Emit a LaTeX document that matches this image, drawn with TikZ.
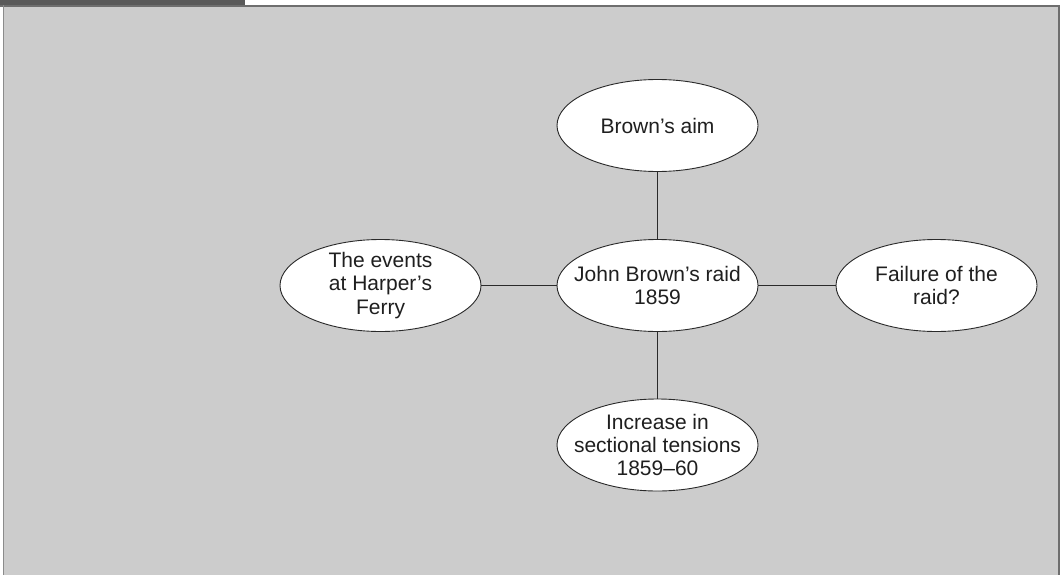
\documentclass[tikz,border=0pt]{standalone}
\usepackage{fontspec}
\setmainfont{Liberation Sans}
\usetikzlibrary{shapes.geometric}
\definecolor{panel}{HTML}{CCCCCC}
\definecolor{rule}{HTML}{6E6E6E}
\definecolor{tab}{HTML}{595959}
\definecolor{inkline}{HTML}{2A2A2A}
\tikzset{
  topic/.style={ellipse, draw=inkline, line width=0.9pt, fill=white,
    minimum width=201pt, minimum height=92pt, inner sep=-25pt,
    align=center, text=black!88,
    font=\fontsize{21pt}{23.3pt}\selectfont},
  link/.style={draw=inkline, line width=0.9pt}
}
\begin{document}
\begin{tikzpicture}[x=1pt, y=-1pt]
  \useasboundingbox (0,0) rectangle (1062,575);
  % panel and frame
  \fill[white] (0,0) rectangle (1062,575);
  \fill[panel] (3.5,5.5) rectangle (1058.5,575);
  \fill[tab] (0,0) rectangle (245,5.5);
  \draw[rule, line width=2.2pt] (0,5.7) -- (1060,5.7);
  \draw[rule!80, line width=1.6pt] (3.6,5.5) -- (3.6,575);
  \draw[rule, line width=2.2pt] (1058.6,5.5) -- (1058.6,575);

  % topics
  \node[topic] (raid)    at (657.5,285.5) {John Brown’s raid\\1859};
  \node[topic] (aim)     at (657.5,125.5) {Brown’s aim};
  \node[topic] (events)  at (380.5,285.5) {The events\\at Harper’s\\Ferry};
  \node[topic] (failure) at (936.5,285.5) {Failure of the\\raid?};
  \node[topic] (tension) at (657.5,445)   {Increase in\\sectional tensions\\1859–60};

  % connectors
  \draw[link] (raid) -- (aim);
  \draw[link] (raid) -- (events);
  \draw[link] (raid) -- (failure);
  \draw[link] (raid) -- (tension);
\end{tikzpicture}
\end{document}
